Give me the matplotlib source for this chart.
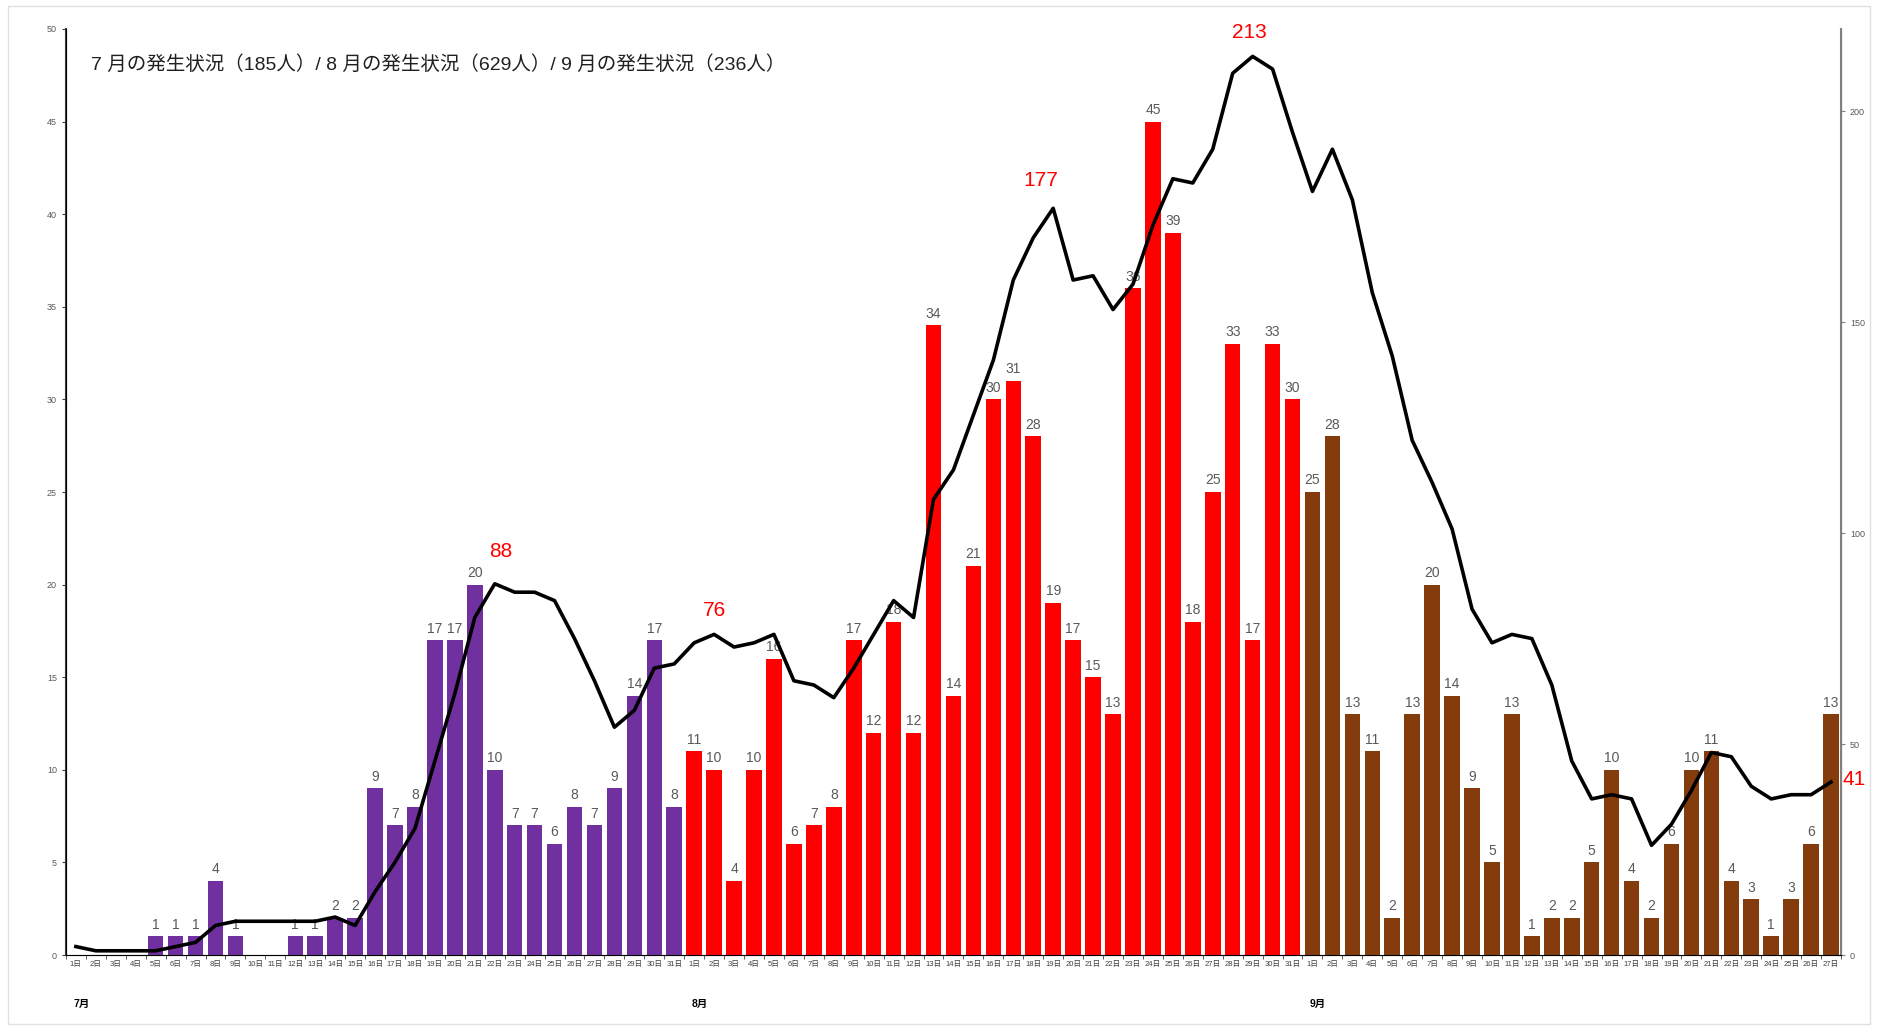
import matplotlib
matplotlib.use('Agg')
import matplotlib.pyplot as plt
import numpy as np
from matplotlib.patches import Rectangle

plt.rcParams['font.family'] = ['Liberation Sans', 'Noto Sans CJK JP', 'DejaVu Sans']

# 日別の新規感染者数
july = [0, 0, 0, 0, 1, 1, 1, 4, 1, 0, 0, 1, 1, 2, 2, 9, 7, 8, 17, 17, 20, 10, 7, 7, 6, 8, 7, 9, 14, 17, 8]
august = [11, 10, 4, 10, 16, 6, 7, 8, 17, 12, 18, 12, 34, 14, 21, 30, 31, 28, 19, 17, 15, 13, 36, 45, 39, 18,
          25, 33, 17, 33, 30]
september = [25, 28, 13, 11, 2, 13, 20, 14, 9, 5, 13, 1, 2, 2, 5, 10, 4, 2, 6, 10, 11, 4, 3, 1, 3, 6, 13]

# 直近7日間の合計（右軸）
weekly = [2, 1, 1, 1, 1, 2, 3, 7, 8, 8, 8, 8, 8, 9, 7, 15, 22, 30, 46, 62, 80, 88, 86, 86, 84, 75, 65, 54, 58, 68, 69,
          74, 76, 73, 74, 76, 65, 64, 61, 68, 76, 84, 80, 108, 115, 128, 141, 160, 170, 177, 160, 161, 153, 159, 173,
          184, 183, 191, 209, 213, 210, 195,
          181, 191, 179, 157, 142, 122, 112, 101, 82, 74, 76, 75, 64, 46, 37, 38, 37, 26, 31, 39, 48, 47, 40, 37, 38,
          38, 41]

months = ['7月', '8月', '9月']
month_colors = ['#7030A0', '#FF0000', '#843C0C']
title = '7 月の発生状況（185人）/ 8 月の発生状況（629人）/ 9 月の発生状況（236人）'
# 赤字で示す7日間合計の値（日のインデックス）
highlight_days = [21, 32, 49, 59, 88]

counts = july + august + september
days = [list(range(1, len(m) + 1)) for m in (july, august, september)]
tick_labels = [f'{d}日' for m in days for d in m]
colors = [c for c, m in zip(month_colors, (july, august, september)) for _ in m]
x = np.arange(len(counts))

fig = plt.figure(figsize=(18.78, 10.28), dpi=100)
fig.patches.append(Rectangle((0.004, 0.004), 0.992, 0.99, transform=fig.transFigure, fill=False,
                             edgecolor='#e0e0e0', linewidth=1))
ax = fig.add_axes([0.0351, 0.071, 0.9452, 0.9008])
ax2 = ax.twinx()

bars = ax.bar(x, counts, width=0.78, color=colors, zorder=2)
for xi, v in zip(x, counts):
    if v > 0:
        ax.text(xi, v + 0.25, str(v), ha='center', va='bottom', fontsize=10, color='#595959', zorder=3)

ax2.plot(x, weekly, color='black', linewidth=2.6, zorder=4)
# ラベル位置の微調整（ポイント）
offsets = [(4, 23), (0, 17), (-9, 20), (-2, 17), (8, 2)]
for d, (dx, dy) in zip(highlight_days, offsets):
    ha = 'left' if d == len(counts) - 1 else 'center'
    ax2.annotate(str(weekly[d]), (d, weekly[d]), xytext=(dx, dy), textcoords='offset points',
                 ha=ha, va='center', color='red', fontsize=15, annotation_clip=False)

ax.set_xlim(-0.45, len(counts) - 0.55)
ax.set_ylim(0, 50)
ax2.set_ylim(0, 219.5)
ax.set_yticks(range(0, 51, 5))
ax2.set_yticks(range(0, 201, 50))

ax.set_xticks(x)
ax.set_xticklabels(tick_labels, fontsize=5.5, color='#404040')
ax.set_xticks(np.arange(-0.5, len(counts), 1), minor=True)
ax.tick_params(axis='x', which='major', length=0, pad=4)
ax.tick_params(axis='x', which='minor', length=3, color='#404040')
ax.tick_params(axis='y', labelsize=6.5, labelcolor='#595959', length=3, color='#404040')
ax2.tick_params(axis='y', labelsize=6.5, labelcolor='#595959', length=3, color='#808080')

for a in (ax, ax2):
    a.spines['top'].set_visible(False)
ax.spines['left'].set_color('#404040')
ax.spines['bottom'].set_color('#808080')
ax2.spines['right'].set_color('#808080')
ax2.spines['right'].set_linewidth(1.5)
ax.spines['left'].set_linewidth(1.5)

# 月の見出し
starts = [0, len(july), len(july) + len(august)]
for s, m in zip(starts, months):
    ax.annotate(m, (s, 0), xycoords=('data', 'axes fraction'), xytext=(-2, -35), textcoords='offset points',
                ha='left', va='center', fontsize=7.5, fontweight='bold', annotation_clip=False)

ax.text(0.014, 0.962, title, transform=ax.transAxes, fontsize=14, ha='left', va='center', color='#202020')

fig.savefig('out.png', dpi=100)
